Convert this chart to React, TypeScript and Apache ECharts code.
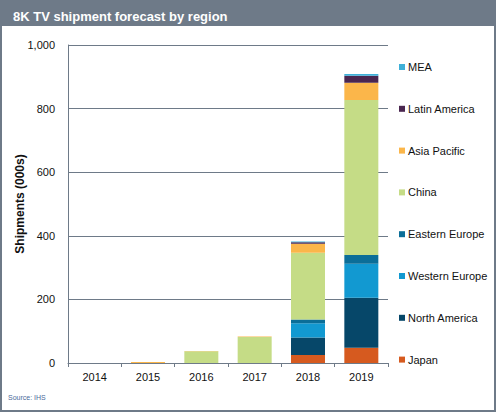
import React, { useEffect, useRef } from "react";
import * as echarts from "echarts";

const years = ["2014", "2015", "2016", "2017", "2018", "2019"];
const japan = [0, 0, 0, 0, 25, 48];
const northAmerica = [0, 0, 0, 0, 55, 157];
const westernEurope = [0, 0, 0, 0, 45, 107];
const easternEurope = [0, 0, 0, 0, 12, 28];
const china = [0, 0, 37, 82, 210, 487];
const asiaPacific = [0, 3, 1, 1, 28, 54];
const latinAmerica = [0, 0, 0, 0, 5, 22];
const mea = [0, 0, 0, 0, 2, 6];
const yTicks = [0, 200, 400, 600, 800, 1000];

const seriesDefs = [
  { name: "Japan", data: japan, color: "#d65a1f" },
  { name: "North America", data: northAmerica, color: "#064769" },
  { name: "Western Europe", data: westernEurope, color: "#1299d1" },
  { name: "Eastern Europe", data: easternEurope, color: "#0b6e98" },
  { name: "China", data: china, color: "#c5dc86" },
  { name: "Asia Pacific", data: asiaPacific, color: "#fbb64a" },
  { name: "Latin America", data: latinAmerica, color: "#4a2650" },
  { name: "MEA", data: mea, color: "#3fb0d8" },
];

const FRAME = "#6e7a88";

export default function App() {
  const ref = useRef<HTMLDivElement>(null);
  useEffect(() => {
    if (!ref.current) return;
    const chart = echarts.init(ref.current, null, { renderer: "svg" });
    chart.setOption({
      animation: false,
      backgroundColor: "#ffffff",
      title: {
        text: "8K TV shipment forecast by region",
        left: 8,
        top: 5,
        textStyle: {
          color: "#ffffff",
          fontFamily: "Liberation Sans, Arial, sans-serif",
          fontSize: 13,
          fontWeight: "bold",
        },
      },
      graphic: [
        { type: "rect", z: -10, shape: { x: 0, y: 0, width: 496, height: 26 }, style: { fill: FRAME } },
        { type: "rect", z: -10, shape: { x: 0, y: 0, width: 2, height: 412 }, style: { fill: FRAME } },
        { type: "rect", z: -10, shape: { x: 494, y: 0, width: 2, height: 412 }, style: { fill: FRAME } },
        { type: "rect", z: -10, shape: { x: 0, y: 410, width: 496, height: 2 }, style: { fill: FRAME } },
        {
          type: "text",
          x: 8,
          y: 394,
          style: {
            text: "Source: IHS",
            fontSize: 7,
            fontFamily: "Liberation Sans, Arial, sans-serif",
            fill: "#4a6a9a",
          },
        },
      ],
      legend: {
        orient: "vertical",
        left: 394,
        top: 55,
        itemWidth: 6,
        itemHeight: 6,
        itemGap: 27.8,
        icon: "rect",
        data: [...seriesDefs].reverse().map((s) => s.name),
        textStyle: {
          color: "#111111",
          fontSize: 11,
          lineHeight: 14,
          padding: [0, 0, 0, -2],
          fontFamily: "Liberation Sans, Arial, sans-serif",
        },
      },
      grid: { left: 68, right: 108, top: 45, bottom: 49 },
      xAxis: {
        type: "category",
        data: years,
        axisLine: { lineStyle: { color: FRAME } },
        axisTick: { show: true, length: 4, lineStyle: { color: FRAME } },
        axisLabel: {
          color: "#111111",
          fontSize: 11,
          margin: 8,
          fontFamily: "Liberation Sans, Arial, sans-serif",
        },
      },
      yAxis: {
        type: "value",
        min: yTicks[0],
        max: yTicks[yTicks.length - 1],
        interval: 200,
        name: "Shipments (000s)",
        nameLocation: "middle",
        nameGap: 42,
        nameMoveOverlap: false,
        nameTextStyle: {
          color: "#111111",
          fontSize: 12,
          fontWeight: "bold",
          fontFamily: "Liberation Sans, Arial, sans-serif",
        },
        axisLine: { show: true, lineStyle: { color: FRAME } },
        axisTick: { show: false },
        splitLine: { lineStyle: { color: FRAME, width: 1 } },
        axisLabel: {
          color: "#111111",
          fontSize: 11,
          margin: 13,
          fontFamily: "Liberation Sans, Arial, sans-serif",
          formatter: (v: number) => v.toLocaleString("en-US"),
        },
      },
      series: seriesDefs.map((s) => ({
        name: s.name,
        type: "bar",
        stack: "total",
        barWidth: 34,
        data: s.data,
        itemStyle: { color: s.color },
      })),
    });
    return () => chart.dispose();
  }, []);
  return (
    <div
      ref={ref}
      style={{ position: "fixed", left: 0, top: 0, width: 496, height: 412 }}
    />
  );
}
